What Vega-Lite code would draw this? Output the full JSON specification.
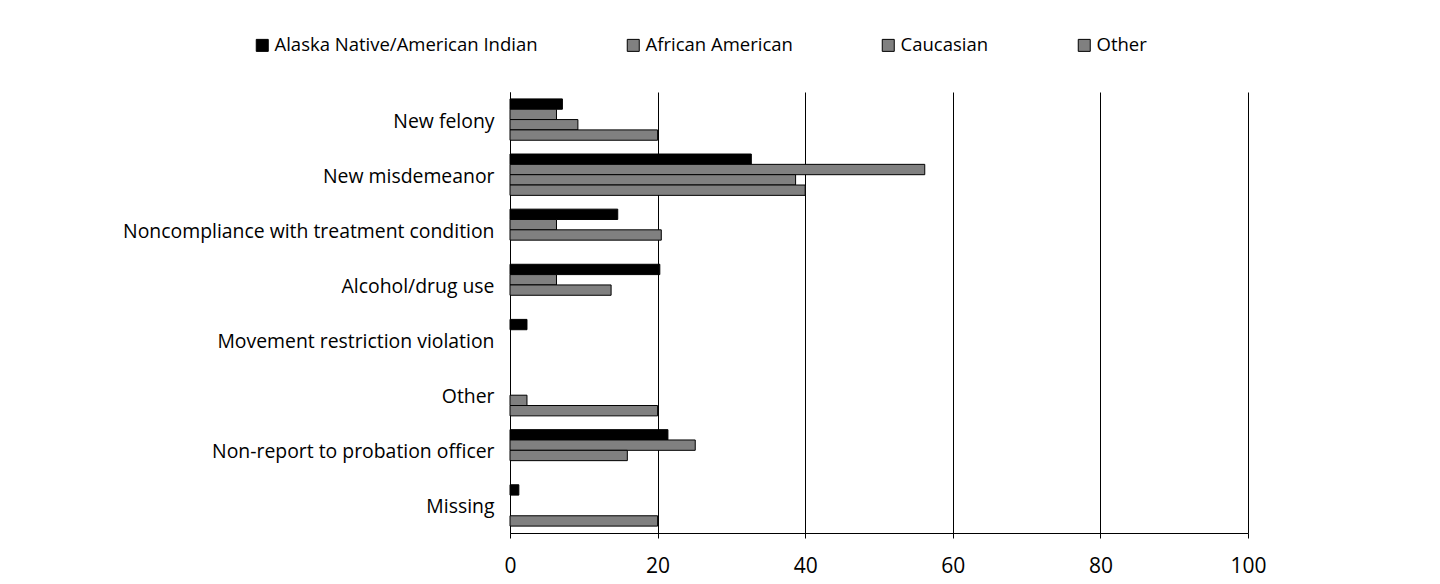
{
  "$schema": "https://vega.github.io/schema/vega-lite/v6.json",
  "autosize": {"type": "none"},
  "width": 738,
  "height": 441,
  "padding": {"left": 510, "top": 92, "right": 192, "bottom": 51},
  "background": "white",
  "config": {
    "font": "Open Sans",
    "view": {"stroke": null}
  },
  "data": {
    "values": [
      {"reason": "New felony", "group": "Alaska Native/American Indian", "pct": 7.1},
      {"reason": "New felony", "group": "African American", "pct": 6.3},
      {"reason": "New felony", "group": "Caucasian", "pct": 9.2},
      {"reason": "New felony", "group": "Other", "pct": 20.0},
      {"reason": "New misdemeanor", "group": "Alaska Native/American Indian", "pct": 32.7},
      {"reason": "New misdemeanor", "group": "African American", "pct": 56.2},
      {"reason": "New misdemeanor", "group": "Caucasian", "pct": 38.7},
      {"reason": "New misdemeanor", "group": "Other", "pct": 40.0},
      {"reason": "Noncompliance with treatment condition", "group": "Alaska Native/American Indian", "pct": 14.6},
      {"reason": "Noncompliance with treatment condition", "group": "African American", "pct": 6.3},
      {"reason": "Noncompliance with treatment condition", "group": "Caucasian", "pct": 20.5},
      {"reason": "Alcohol/drug use", "group": "Alaska Native/American Indian", "pct": 20.3},
      {"reason": "Alcohol/drug use", "group": "African American", "pct": 6.3},
      {"reason": "Alcohol/drug use", "group": "Caucasian", "pct": 13.7},
      {"reason": "Movement restriction violation", "group": "Alaska Native/American Indian", "pct": 2.3},
      {"reason": "Other", "group": "Caucasian", "pct": 2.3},
      {"reason": "Other", "group": "Other", "pct": 20.0},
      {"reason": "Non-report to probation officer", "group": "Alaska Native/American Indian", "pct": 21.4},
      {"reason": "Non-report to probation officer", "group": "African American", "pct": 25.1},
      {"reason": "Non-report to probation officer", "group": "Caucasian", "pct": 15.9},
      {"reason": "Missing", "group": "Alaska Native/American Indian", "pct": 1.2},
      {"reason": "Missing", "group": "Other", "pct": 20.0}
    ]
  },
  "mark": {"type": "bar", "stroke": "#000000", "strokeWidth": 1, "opacity": 1},
  "encoding": {
    "y": {
      "field": "reason",
      "type": "nominal",
      "sort": ["New felony", "New misdemeanor", "Noncompliance with treatment condition", "Alcohol/drug use", "Movement restriction violation", "Other", "Non-report to probation officer", "Missing"],
      "scale": {"paddingInner": 0.25, "paddingOuter": 0.125},
      "axis": {
        "title": null,
        "ticks": false,
        "domainColor": "#000000",
        "domainWidth": 1,
        "labelFontSize": 19.4,
        "labelColor": "#000000",
        "labelPadding": 16,
        "labelOffset": 2,
        "labelLimit": 500
      }
    },
    "yOffset": {
      "field": "group",
      "type": "nominal",
      "scale": {"domain": ["Alaska Native/American Indian", "African American", "Caucasian", "Other"], "paddingInner": 0, "paddingOuter": 0}
    },
    "x": {
      "field": "pct",
      "type": "quantitative",
      "scale": {"domain": [0, 100], "nice": false},
      "axis": {
        "title": null,
        "values": [0, 20, 40, 60, 80, 100],
        "grid": true,
        "gridColor": "#000000",
        "gridWidth": 1,
        "gridOpacity": 1,
        "domainColor": "#000000",
        "tickColor": "#000000",
        "tickSize": 5,
        "labelFontSize": 21,
        "labelColor": "#000000",
        "labelPadding": 17,
        "labelFlush": false
      }
    },
    "color": {
      "field": "group",
      "type": "nominal",
      "scale": {
        "domain": ["Alaska Native/American Indian", "African American", "Caucasian", "Other"],
        "range": ["#000000", "#808080", "#808080", "#808080"]
      },
      "legend": {
        "title": null,
        "orient": "none",
        "direction": "horizontal",
        "legendX": -257,
        "legendY": -56,
        "columns": 4,
        "columnPadding": 86,
        "symbolType": "square",
        "symbolSize": 144,
        "symbolStrokeColor": "#000000",
        "symbolStrokeWidth": 1,
        "symbolOpacity": 1,
        "labelFontSize": 18.5,
        "labelColor": "#000000",
        "labelOffset": 3,
        "labelLimit": 400
      }
    }
  }
}
